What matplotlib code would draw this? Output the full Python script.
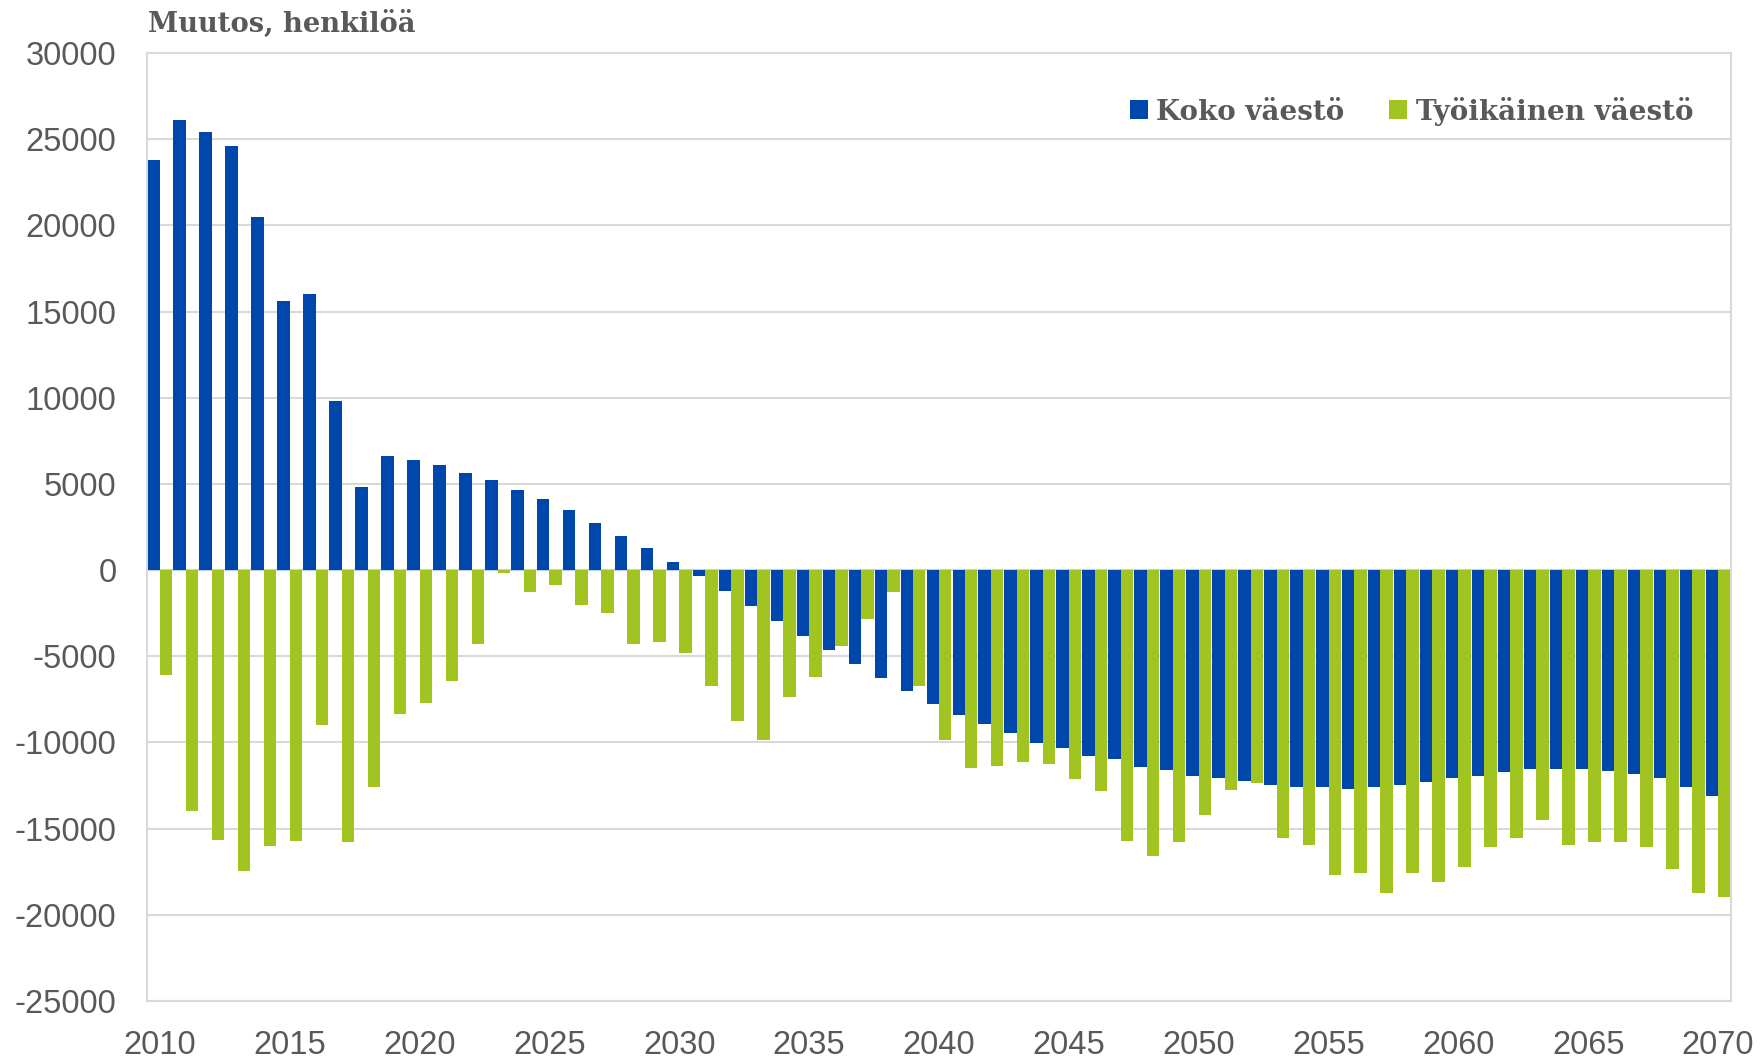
import matplotlib
matplotlib.use("Agg")
import matplotlib.pyplot as plt
from matplotlib.patches import Patch
import numpy as np

years = list(range(2010, 2071))
koko_vaesto = [
    23800, 26100, 25400, 24600, 20500, 15600, 16000, 9800, 4800, 6600,
    6400, 6100, 5650, 5200, 4650, 4100, 3500, 2750, 2000, 1260,
    480, -350, -1220, -2090, -2940, -3810, -4660, -5420, -6270, -7000,
    -7740, -8420, -8940, -9480, -10010, -10320, -10780, -10970, -11420, -11610,
    -11940, -12040, -12250, -12480, -12580, -12580, -12700, -12580, -12480, -12270,
    -12060, -11940, -11730, -11520, -11520, -11520, -11630, -11820, -12040, -12580,
    -13120,
]
tyoikainen_vaesto = [
    -6100, -13950, -15670, -17470, -15980, -15700, -9010, -15770, -12560, -8370,
    -7730, -6460, -4310, -190, -1290, -860, -2040, -2470, -4300, -4190,
    -4830, -6740, -8770, -9850, -7390, -6190, -4390, -2860, -1280, -6740,
    -9850, -11480, -11360, -11130, -11240, -12100, -12830, -15740, -16590, -15760,
    -14230, -12740, -12330, -15540, -15950, -17670, -17560, -18740, -17560, -18100,
    -17250, -16060, -15520, -14480, -15950, -15760, -15760, -16060, -17340, -18720,
    -18950,
]
series_names = ["Koko väestö", "Työikäinen väestö"]
title_text = "Muutos, henkilöä"
yticks = list(range(-25000, 30001, 5000))
xtick_years = list(range(2010, 2071, 5))

BLUE = "#0047AB"
GREEN = "#A1C421"
GRID = "#D9D9D9"
TEXT = "#595959"

W, H = 1764, 1060
fig = plt.figure(figsize=(W / 100, H / 100), dpi=100)
ax = fig.add_axes([147 / W, 1 - 1001 / H, (1731 - 147) / W, (1001 - 53) / H])

x = np.arange(len(years))
bw = 0.48
ax.bar(x - 0.24, koko_vaesto, width=bw, color=BLUE, linewidth=0, zorder=3)
ax.bar(x + 0.24, tyoikainen_vaesto, width=bw, color=GREEN, linewidth=0, zorder=3)

ax.set_xlim(-0.5, len(years) - 0.5)
ax.set_ylim(-25000, 30000)
ax.set_yticks(yticks)
ax.set_yticklabels([str(v) for v in yticks])
xt = [years.index(y) for y in xtick_years]
ax.set_xticks(xt)
ax.set_xticklabels([str(y) for y in xtick_years])

ax.grid(axis="y", color=GRID, linewidth=1.5, zorder=0)
ax.axhline(0, color="#C5D0E3", linewidth=1.5, zorder=2)
for s in ax.spines.values():
    s.set_color(GRID)
    s.set_linewidth(1.5)

ax.tick_params(axis="both", length=0, labelsize=23.5, labelcolor=TEXT)
ax.tick_params(axis="y", pad=22)
ax.tick_params(axis="x", pad=21)
for lab in ax.get_xticklabels() + ax.get_yticklabels():
    lab.set_fontfamily(["Liberation Sans", "DejaVu Sans"])

fig.text(148 / W, 1 - 32 / H, title_text, fontsize=19.7, fontweight="bold",
         family=["DejaVu Serif"], color=TEXT, ha="left", va="baseline")

handles = [Patch(facecolor=BLUE, edgecolor="none"), Patch(facecolor=GREEN, edgecolor="none")]
leg = ax.legend(handles, series_names, loc="center right",
                bbox_to_anchor=(1693 / W, 1 - 111 / H), bbox_transform=fig.transFigure,
                ncol=2, frameon=False, borderpad=0, borderaxespad=0,
                handlelength=0.65, handleheight=0.65, handletextpad=0.3,
                columnspacing=1.6,
                prop={"family": "DejaVu Serif", "weight": "bold", "size": 20})
for t in leg.get_texts():
    t.set_color(TEXT)

fig.savefig("out.png", dpi=100, facecolor="white")
